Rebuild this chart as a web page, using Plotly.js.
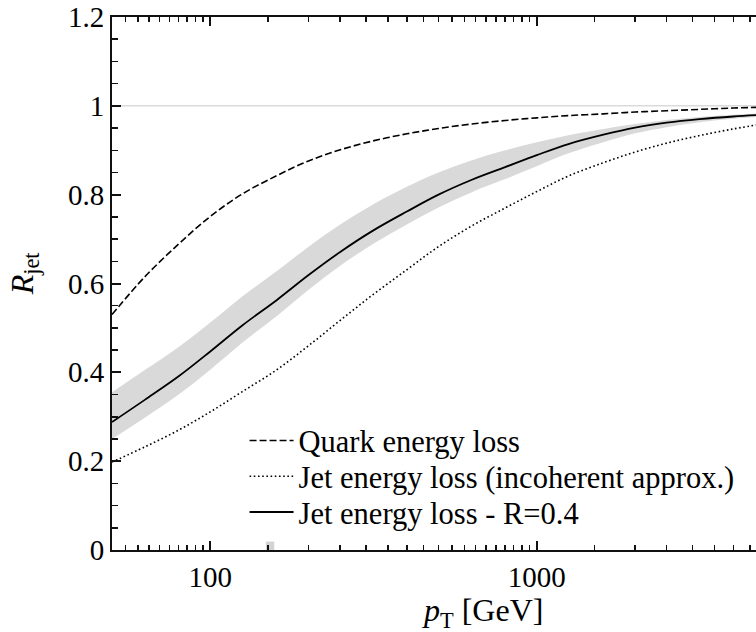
<!DOCTYPE html>
<html>
<head>
<meta charset="utf-8">
<script src="https://cdn.plot.ly/plotly-3.0.1.min.js"></script>
<style>
html,body{margin:0;padding:0;background:#fff;overflow:hidden;}
#wrap{width:756px;height:632px;overflow:hidden;position:relative;}
#chart{width:780px;height:632px;}
</style>
</head>
<body>
<div id="wrap"><div id="chart"></div></div>
<script>
// pT grid [GeV]
const pt = [50,63,80,100,125,160,200,250,315,400,500,630,800,1000,1250,1600,2000,2500,3150,4000,5000];
// Quark energy loss (dashed)
const quark = [0.53,0.615,0.689,0.751,0.801,0.843,0.876,0.901,0.921,0.937,0.949,0.959,0.967,0.973,0.978,0.982,0.986,0.989,0.992,0.995,0.997];
// Jet energy loss (incoherent approx.) (dotted)
const incoherent = [0.198,0.232,0.27,0.311,0.356,0.406,0.46,0.517,0.575,0.631,0.683,0.729,0.77,0.807,0.842,0.872,0.896,0.916,0.933,0.948,0.96];
// Jet energy loss - R=0.4 (solid) and its band
const jetR04 = [0.288,0.338,0.391,0.447,0.505,0.563,0.619,0.671,0.719,0.762,0.8,0.833,0.862,0.889,0.914,0.935,0.951,0.962,0.97,0.976,0.98];
const bandHigh = [0.355,0.405,0.457,0.512,0.57,0.628,0.683,0.733,0.778,0.818,0.85,0.877,0.9,0.918,0.934,0.948,0.959,0.968,0.975,0.98,0.984];
const bandLow = [0.25,0.298,0.35,0.406,0.466,0.527,0.586,0.64,0.689,0.733,0.771,0.805,0.835,0.864,0.893,0.918,0.938,0.952,0.963,0.971,0.976];

const xMajor = [100,1000];
const xMajorText = ['100','1000'];
const xMinor = [55,60,65,70,75,80,85,90,95,150,200,250,300,350,400,450,500,550,600,650,700,750,800,850,900,950,1500,2000,2500,3000,3500,4000,4500];
const yMajor = [0,0.2,0.4,0.6,0.8,1,1.2];
const yMajorText = ['0','0.2','0.4','0.6','0.8','1','1.2'];
const yMinor = [0.05,0.1,0.15,0.25,0.3,0.35,0.45,0.5,0.55,0.65,0.7,0.75,0.85,0.9,0.95,1.05,1.1,1.15];

const FONT = 'Liberation Serif';
const AX = '#111';
const TICKFONT = {family:FONT, size:29, color:'#000'};

const traces = [
  {x: pt, y: bandLow, mode:'lines', line:{width:0, shape:'spline'}, showlegend:false, hoverinfo:'skip'},
  {x: pt, y: bandHigh, mode:'lines', fill:'tonexty', fillcolor:'#d9d9d9', line:{width:0, shape:'spline'}, showlegend:false, hoverinfo:'skip'},
  {x: pt, y: quark, mode:'lines', name:'Quark energy loss', line:{color:'#000', width:1.6, dash:'7px,3px', shape:'spline'}, legend:'legend'},
  {x: pt, y: incoherent, mode:'lines', name:'Jet energy loss (incoherent approx.)', line:{color:'#000', width:1.6, dash:'1.6px,2.6px', shape:'spline'}, legend:'legend2'},
  {x: pt, y: jetR04, mode:'lines', name:'Jet energy loss - R=0.4', line:{color:'#000', width:1.8, shape:'spline'}, legend:'legend3'},
  // invisible trace that carries the minor-tick overlay axes
  {x: [pt[0]], y: [yMajor[0]], xaxis:'x2', yaxis:'y2', mode:'markers', marker:{opacity:0, size:1}, showlegend:false, hoverinfo:'skip'}
];

const legBase = {xanchor:'left', yanchor:'middle', bgcolor:'rgba(0,0,0,0)', borderwidth:0,
  font:{family:FONT, size:30.5, color:'#000'}, itemwidth:44};
const legX = 0.203;
const xr = [Math.log10(50), Math.log10(5000)];

const layout = {
  width:780, height:632,
  margin:{l:112, r:15, t:17, b:82},
  paper_bgcolor:'#fff', plot_bgcolor:'#fff',
  font:{family:FONT, size:29, color:'#000'},
  xaxis:{type:'log', range:xr, tickmode:'array', tickvals:xMajor, ticktext:xMajorText,
    ticks:'inside', ticklen:9, tickwidth:2, tickcolor:AX, showline:true, linecolor:AX, linewidth:2, mirror:'ticks',
    showgrid:false, zeroline:false, tickfont:TICKFONT},
  yaxis:{range:[0,1.2], tickmode:'array', tickvals:yMajor, ticktext:yMajorText,
    ticks:'inside', ticklen:9, tickwidth:2, tickcolor:AX, showline:true, linecolor:AX, linewidth:2, mirror:'ticks',
    showgrid:false, zeroline:false, tickfont:TICKFONT},
  xaxis2:{type:'log', range:xr, overlaying:'x', anchor:'y2', tickmode:'array', tickvals:xMinor, showticklabels:false,
    ticks:'inside', ticklen:5, tickwidth:1.5, tickcolor:AX, showline:true, linecolor:AX, linewidth:2, mirror:'ticks',
    showgrid:false, zeroline:false},
  yaxis2:{range:[0,1.2], overlaying:'y', anchor:'x2', tickmode:'array', tickvals:yMinor, showticklabels:false,
    ticks:'inside', ticklen:6, tickwidth:1.5, tickcolor:AX, showline:true, linecolor:AX, linewidth:2, mirror:'ticks',
    showgrid:false, zeroline:false},
  legend: Object.assign({}, legBase, {x:legX, y:0.205}),
  legend2: Object.assign({}, legBase, {x:legX, y:0.138}),
  legend3: Object.assign({}, legBase, {x:legX, y:0.071}),
  shapes:[
    {type:'line', xref:'paper', yref:'y', x0:0, x1:1, y0:1, y1:1, line:{color:'#c8c8c8', width:1}, layer:'below'},
    {type:'rect', xref:'x', yref:'y', x0:148, x1:157, y0:0, y1:0.019, fillcolor:'#d3d3d3', line:{width:0}, layer:'below'}
  ],
  annotations:[
    {xref:'paper', yref:'paper', x:-0.134, y:0.52, text:'<i>R</i><sub>jet</sub>', textangle:-90, showarrow:false,
      xanchor:'center', yanchor:'middle', font:{family:FONT, size:32, color:'#000'}},
    {xref:'paper', yref:'paper', x:0.568, y:-0.117, text:'<i>p</i><sub>T</sub> [GeV]', showarrow:false,
      xanchor:'center', yanchor:'middle', font:{family:FONT, size:32, color:'#000'}}
  ]
};

Plotly.newPlot('chart', traces, layout, {displayModeBar:false, staticPlot:true});
</script>
</body>
</html>
